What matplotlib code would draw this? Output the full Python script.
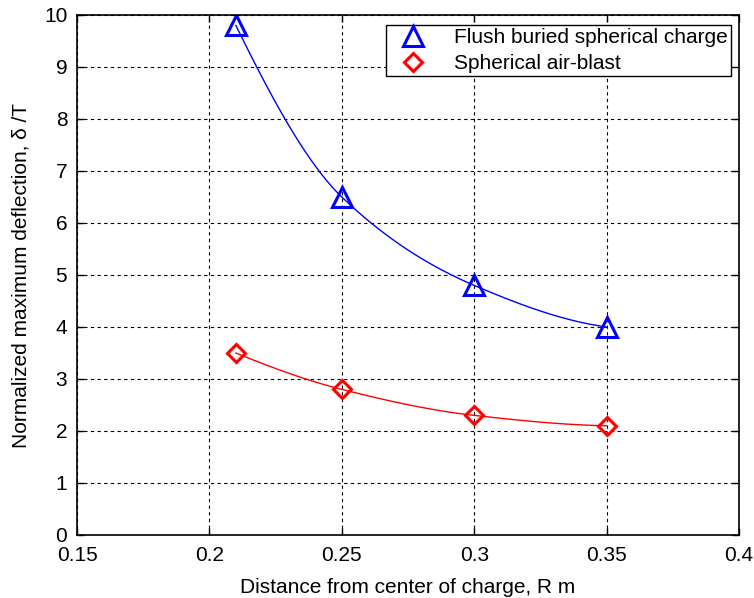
import numpy as np
import matplotlib
matplotlib.use("Agg")
import matplotlib.pyplot as plt

plt.rcParams['font.family'] = ['Liberation Sans', 'DejaVu Sans']
plt.rcParams['font.size'] = 15

# standoff distance (m) and normalized deflection
distance = [0.21, 0.25, 0.30, 0.35]
buried = [9.8, 6.5, 4.8, 4.0]
airblast = [3.5, 2.8, 2.3, 2.1]

fig = plt.figure(figsize=(7.54, 5.98), dpi=100)
ax = fig.add_axes([77 / 754, 1 - 535 / 598, 662 / 754, 520 / 598])

def pchip(x, y, n=200):
    # shape-preserving piecewise cubic through the points
    x = np.asarray(x, float)
    y = np.asarray(y, float)
    h = np.diff(x)
    d = np.diff(y) / h
    m = np.zeros_like(y)
    for k in range(1, len(x) - 1):
        if d[k - 1] * d[k] > 0:
            w1 = 2 * h[k] + h[k - 1]
            w2 = h[k] + 2 * h[k - 1]
            m[k] = (w1 + w2) / (w1 / d[k - 1] + w2 / d[k])
    m[0] = ((2 * h[0] + h[1]) * d[0] - h[0] * d[1]) / (h[0] + h[1])
    if np.sign(m[0]) != np.sign(d[0]):
        m[0] = 0
    m[-1] = ((2 * h[-1] + h[-2]) * d[-1] - h[-1] * d[-2]) / (h[-1] + h[-2])
    if np.sign(m[-1]) != np.sign(d[-1]):
        m[-1] = 0
    xs = np.linspace(x[0], x[-1], n)
    k = np.clip(np.searchsorted(x, xs) - 1, 0, len(x) - 2)
    t = (xs - x[k]) / h[k]
    h00 = 2 * t**3 - 3 * t**2 + 1
    h10 = t**3 - 2 * t**2 + t
    h01 = -2 * t**3 + 3 * t**2
    h11 = t**3 - t**2
    ys = h00 * y[k] + h10 * h[k] * m[k] + h01 * y[k + 1] + h11 * h[k] * m[k + 1]
    return xs, ys

xs, ys = pchip(distance, buried)
ax.plot(xs, ys, color='#0000ff', lw=1.0)
xs, ys = pchip(distance, airblast)
ax.plot(xs, ys, color='#ff0000', lw=1.0)

ax.plot(distance, buried, linestyle='none', marker='^', ms=14, mfc='none',
        mec='#0000ff', mew=2.2, label='Flush buried spherical charge')
ax.plot(distance, airblast, linestyle='none', marker='D', ms=9, mfc='none',
        mec='#ff0000', mew=2.2, label='Spherical air-blast')

ax.set_xlim(0.15, 0.4)
ax.set_ylim(0, 10)
ax.set_xticks([0.15, 0.2, 0.25, 0.3, 0.35, 0.4])
ax.set_xticklabels(['0.15', '0.2', '0.25', '0.3', '0.35', '0.4'])
ax.set_yticks(range(0, 11))

ax.grid(True, color='black', linestyle=(0, (3, 3)), linewidth=0.8)
ax.tick_params(direction='in', top=True, right=True, length=5, width=1)
ax.tick_params(axis='x', pad=8)
ax.tick_params(axis='y', pad=7)
for s in ax.spines.values():
    s.set_linewidth(1.2)

ax.set_xlabel('Distance from center of charge, R m', labelpad=9)
ax.set_ylabel('Normalized maximum deflection, δ /T', labelpad=10)

leg = ax.legend(loc='upper right', bbox_to_anchor=(0.988, 0.981), fancybox=False,
                framealpha=1, edgecolor='black', borderpad=0.15, labelspacing=0.35,
                handletextpad=0.9, handlelength=2.2, borderaxespad=0)
leg.get_frame().set_linewidth(1.0)

fig.savefig('out.png', dpi=100)
